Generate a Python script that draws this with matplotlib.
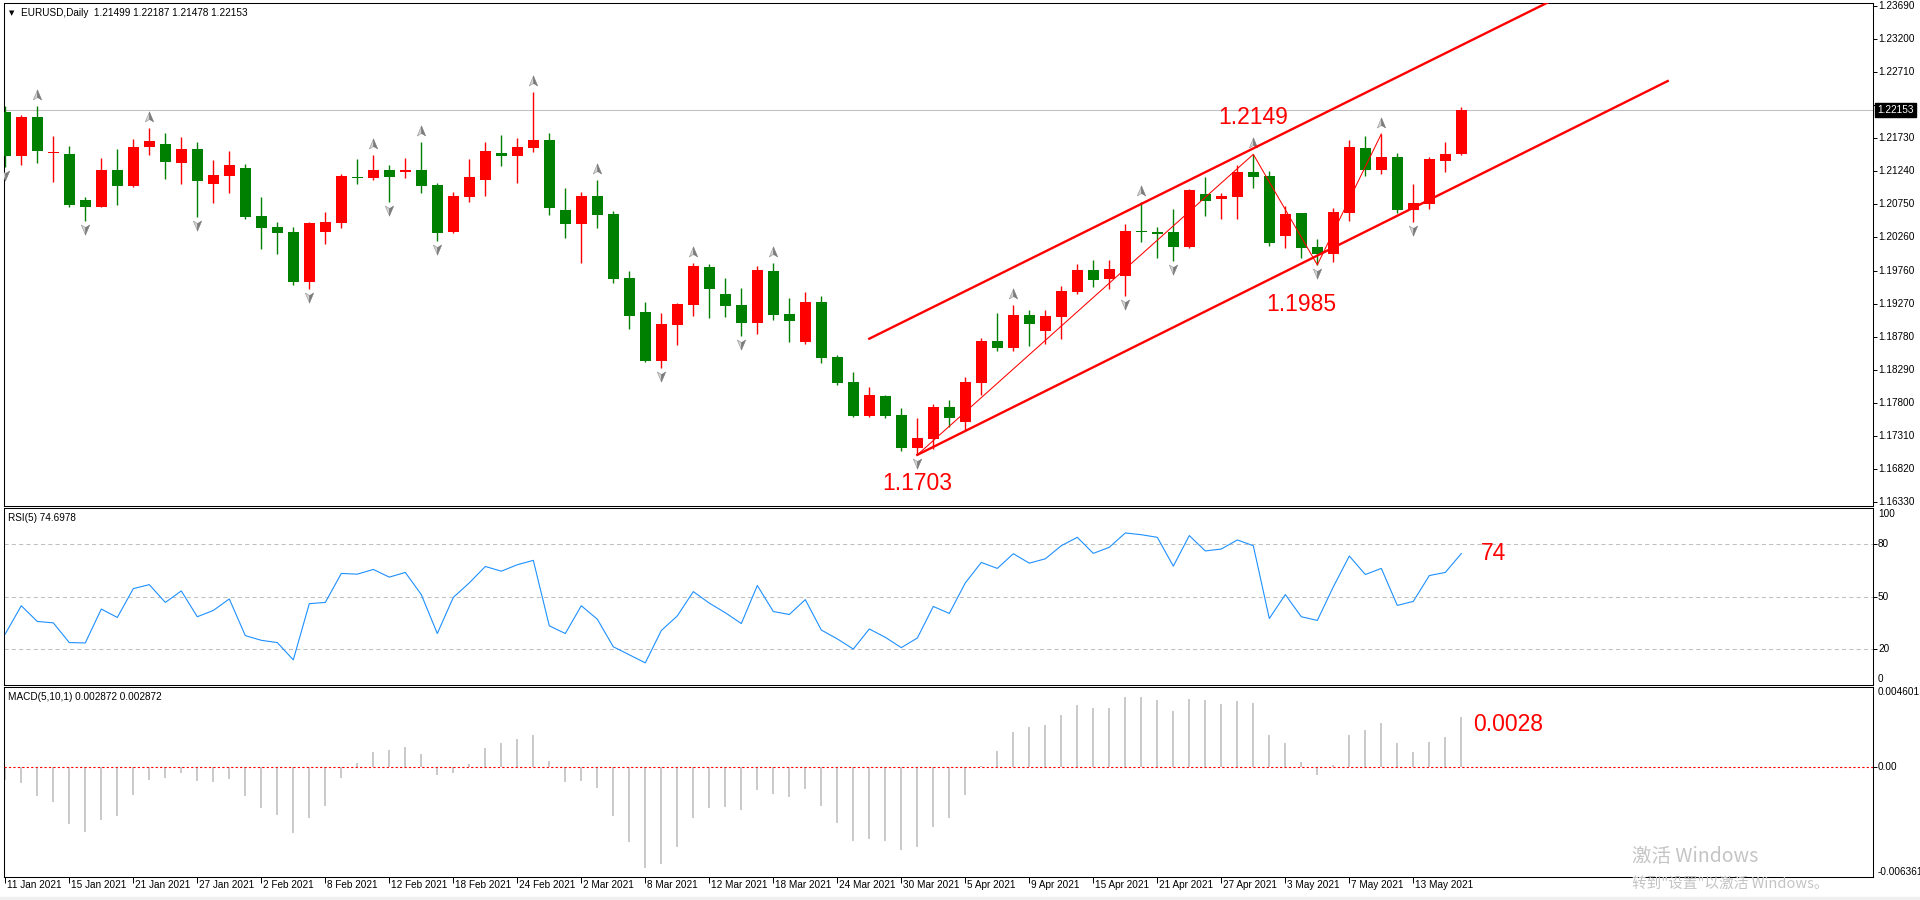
import matplotlib.pyplot as plt
import matplotlib.transforms as mtransforms
from matplotlib.path import Path
from matplotlib.patches import Rectangle
import numpy as np

plt.rcParams['font.family'] = ['Liberation Sans', 'DejaVu Sans']

W, H = 1920, 900

# EURUSD daily, 11 Jan 2021 .. 18 May 2021
opens = [1.22119, 1.21471, 1.22045, 1.21505, 1.21495, 1.20813, 1.20714, 1.21258, 1.21025, 1.21604,
         1.21644, 1.21367, 1.21570, 1.21055, 1.21174, 1.21288, 1.20575, 1.20412, 1.20338, 1.19601,
         1.20343, 1.20476, 1.21154, 1.21144, 1.21258, 1.21223, 1.21258, 1.21035, 1.20343, 1.20862,
         1.21114, 1.21510, 1.21471, 1.21589, 1.21703, 1.20664, 1.20461, 1.20872, 1.20605, 1.19655,
         1.19151, 1.18428, 1.18963, 1.19259, 1.19818, 1.19418, 1.19254, 1.18992, 1.19759, 1.19121,
         1.18705, 1.19299, 1.18483, 1.18112, 1.17612, 1.17904, 1.17622, 1.17137, 1.17271, 1.17741,
         1.17523, 1.18102, 1.18720, 1.18621, 1.19106, 1.18873, 1.19081, 1.19452, 1.19774, 1.19635,
         1.19690, 1.20353, 1.20333, 1.20338, 1.20120, 1.20902, 1.20823, 1.20862, 1.21228, 1.21169,
         1.20283, 1.20620, 1.20110, 1.20016, 1.20625, 1.21584, 1.21263, 1.21451, 1.20669, 1.20758,
         1.21396, 1.21499]
highs = [1.22208, 1.22074, 1.22208, 1.21763, 1.21614, 1.20857, 1.21436, 1.21570, 1.21718, 1.21881,
         1.21807, 1.21748, 1.21673, 1.21406, 1.21540, 1.21347, 1.20857, 1.20486, 1.20412, 1.20486,
         1.20635, 1.21199, 1.21421, 1.21481, 1.21332, 1.21436, 1.21673, 1.21065, 1.20931, 1.21421,
         1.21678, 1.21777, 1.21733, 1.22416, 1.21807, 1.20991, 1.20931, 1.21110, 1.20649, 1.19759,
         1.19299, 1.19136, 1.19284, 1.19883, 1.19863, 1.19655, 1.19507, 1.19833, 1.19878, 1.19358,
         1.19447, 1.19388, 1.18517, 1.18260, 1.18037, 1.17919, 1.17726, 1.17577, 1.17785, 1.17845,
         1.18186, 1.18765, 1.19136, 1.19254, 1.19180, 1.19180, 1.19536, 1.19863, 1.19922, 1.19922,
         1.20457, 1.20778, 1.20417, 1.20679, 1.20976, 1.21154, 1.20917, 1.21327, 1.21490, 1.21243,
         1.20729, 1.20620, 1.20239, 1.20694, 1.21703, 1.21763, 1.21792, 1.21510, 1.21050, 1.21451,
         1.21673, 1.22187]
lows = [1.21298, 1.21337, 1.21367, 1.21085, 1.20714, 1.20506, 1.20704, 1.20743, 1.21001, 1.21485,
        1.21129, 1.21055, 1.20565, 1.20773, 1.20922, 1.20536, 1.20090, 1.20016, 1.19556, 1.19497,
        1.20165, 1.20402, 1.21055, 1.21114, 1.20783, 1.21144, 1.20922, 1.20209, 1.20328, 1.20788,
        1.20877, 1.21322, 1.21070, 1.21530, 1.20595, 1.20254, 1.19883, 1.20402, 1.19586, 1.18903,
        1.18413, 1.18324, 1.18666, 1.19096, 1.19066, 1.19081, 1.18799, 1.18829, 1.19037, 1.18710,
        1.18681, 1.18399, 1.18072, 1.17597, 1.17597, 1.17582, 1.17093, 1.17030, 1.17122, 1.17449,
        1.17389, 1.17924, 1.18577, 1.18577, 1.18651, 1.18681, 1.18755, 1.19423, 1.19526, 1.19487,
        1.19393, 1.20194, 1.19957, 1.19912, 1.20105, 1.20580, 1.20536, 1.20536, 1.20996, 1.20135,
        1.20105, 1.19957, 1.19850, 1.19898, 1.20506, 1.21169, 1.21204, 1.20625, 1.20491, 1.20684,
        1.21233, 1.21478]
closes = [1.21471, 1.22045, 1.21545, 1.21530, 1.20743, 1.20714, 1.21258, 1.21025, 1.21599, 1.21688,
          1.21382, 1.21570, 1.21100, 1.21184, 1.21332, 1.20565, 1.20402, 1.20328, 1.19601, 1.20471,
          1.20486, 1.21169, 1.21139, 1.21258, 1.21159, 1.21258, 1.21025, 1.20328, 1.20872, 1.21154,
          1.21540, 1.21471, 1.21599, 1.21703, 1.20699, 1.20461, 1.20872, 1.20595, 1.19645, 1.19096,
          1.18428, 1.18972, 1.19269, 1.19833, 1.19497, 1.19245, 1.18992, 1.19774, 1.19111, 1.19022,
          1.19299, 1.18473, 1.18102, 1.17612, 1.17919, 1.17612, 1.17137, 1.17281, 1.17741, 1.17582,
          1.18112, 1.18720, 1.18621, 1.19106, 1.18977, 1.19091, 1.19462, 1.19774, 1.19630, 1.19784,
          1.20353, 1.20333, 1.20313, 1.20120, 1.20961, 1.20803, 1.20872, 1.21228, 1.21159, 1.20180,
          1.20605, 1.20105, 1.20016, 1.20635, 1.21599, 1.21263, 1.21451, 1.20669, 1.20768, 1.21421,
          1.21495, 1.22153]

rsi = [28.7, 44.8, 35.8, 35.0, 23.7, 23.5, 42.9, 38.1, 54.6, 56.9,
       46.7, 53.3, 38.5, 42.1, 48.7, 27.7, 25.0, 23.7, 13.8, 46.0,
       46.7, 63.3, 62.9, 65.6, 61.2, 63.9, 51.2, 28.9, 49.6, 57.9,
       67.3, 64.6, 68.3, 70.8, 33.3, 28.9, 44.8, 37.1, 21.3, 16.7,
       12.1, 30.6, 39.0, 52.9, 46.3, 40.8, 34.6, 56.4, 41.5, 39.8,
       48.3, 30.9, 25.8, 20.0, 31.5, 26.7, 20.8, 26.3, 44.4, 40.4,
       57.9, 69.6, 66.2, 74.6, 69.2, 71.7, 79.2, 84.0, 74.8, 78.3,
       86.5, 85.5, 84.0, 67.5, 85.0, 76.2, 77.3, 82.5, 79.2, 37.5,
       51.2, 38.5, 36.4, 55.6, 73.3, 62.7, 66.2, 45.0, 47.3, 62.1,
       63.9, 74.7]

macd = [-0.00074, -0.00095, -0.00169, -0.00204, -0.00329, -0.00377, -0.00305, -0.00282, -0.00165, -0.00078,
        -0.00066, -0.00037, -0.00082, -0.00089, -0.00072, -0.00171, -0.00237, -0.00276, -0.00385, -0.00294,
        -0.00224, -0.00066, 0.00019, 0.00084, 0.00095, 0.00113, 0.00072, -0.00049, -0.00035, 0.00017,
        0.00107, 0.00136, 0.00159, 0.00183, 0.00031, -0.00087, -0.00084, -0.00124, -0.00282, -0.00434,
        -0.00587, -0.00562, -0.00463, -0.00297, -0.00239, -0.00235, -0.00249, -0.00136, -0.00156, -0.00177,
        -0.00130, -0.00229, -0.00323, -0.00428, -0.00418, -0.00428, -0.00478, -0.00463, -0.00350, -0.00294,
        -0.00165, 0.00003, 0.00089, 0.00200, 0.00229, 0.00241, 0.00299, 0.00358, 0.00340, 0.00340,
        0.00404, 0.00404, 0.00387, 0.00323, 0.00391, 0.00385, 0.00364, 0.00381, 0.00369, 0.00181,
        0.00136, 0.00025, -0.00049, 0.00008, 0.00183, 0.00212, 0.00255, 0.00136, 0.00086, 0.00142,
        0.00171, 0.002872]

date_labels = ["11 Jan 2021", "15 Jan 2021", "21 Jan 2021", "27 Jan 2021", "2 Feb 2021", "8 Feb 2021",
               "12 Feb 2021", "18 Feb 2021", "24 Feb 2021", "2 Mar 2021", "8 Mar 2021", "12 Mar 2021",
               "18 Mar 2021", "24 Mar 2021", "30 Mar 2021", "5 Apr 2021", "9 Apr 2021", "15 Apr 2021",
               "21 Apr 2021", "27 Apr 2021", "3 May 2021", "7 May 2021", "13 May 2021"]
# 1.22220 sits under the current-price tag, so it gets a tick but no label
price_ticks = [1.23690, 1.23200, 1.22710, 1.22220, 1.21730, 1.21240, 1.20750, 1.20260,
               1.19760, 1.19270, 1.18780, 1.18290, 1.17800, 1.17310, 1.16820, 1.16330]
hidden_tick = 1.22220
fractal_up = [2, 9, 23, 26, 33, 37, 43, 48, 63, 71, 78, 86]
fractal_down = [0, 5, 12, 19, 24, 27, 41, 46, 57, 70, 73, 82, 88]
zigzag = [(57, 'low'), (78, 'high'), (82, 'low'), (86, 'high')]
channel_upper = ([54.0, 103.9], [1.18754, 1.24626])
channel_lower = ([57.0, 103.9], [1.17030, 1.22578])

RED = '#ff0000'
GREEN = '#008000'
GRID = '#c0c0c0'
FS = 7.2

fig = plt.figure(figsize=(W / 100, H / 100), dpi=100, facecolor='white')


def panel(y0, y1):
    ax = fig.add_axes([4 / W, 1 - y1 / H, (1873 - 4) / W, (y1 - y0) / H])
    for s in ax.spines.values():
        s.set_linewidth(0.75)
        s.set_color('black')
    ax.set_xlim(-0.081, 116.73)
    ax.tick_params(axis='x', bottom=False, labelbottom=False)
    ax.tick_params(axis='y', left=False, labelleft=False, right=True, labelright=False,
                   direction='out', length=3, width=0.7)
    return ax


def right_label(ax, y, txt, va='center', **kw):
    tr = mtransforms.offset_copy(ax.get_yaxis_transform(), fig=fig, x=5, y=0, units='dots')
    ax.text(1.0, y, txt, transform=tr, ha='left', va=va, fontsize=FS, clip_on=False, **kw)


x = np.arange(len(closes))
o, h, l, c = map(np.array, (opens, highs, lows, closes))

# ---------------- price panel ----------------
ax = panel(3, 506)
ax.set_ylim(1.16271, 1.23736)
ax.axhline(closes[-1], color=GRID, lw=0.75, zorder=1)

col = np.where(c >= o, RED, GREEN)
ax.vlines(x, l, h, colors=col, lw=1.0, zorder=2)
ax.bar(x, np.maximum(np.abs(c - o), 0.00012), bottom=np.minimum(o, c), width=0.69,
       color=col, lw=0, zorder=3)

# fractal arrows (two-tone arrowheads)
left_half = Path([(0, 1), (0, -0.35), (-0.75, -0.8), (0, 1)], closed=True)
right_half = Path([(0, 1), (0.75, -0.8), (0, -0.35), (0, 1)], closed=True)
flip = lambda p: Path(p.vertices * [1, -1], p.codes)
tr_up = mtransforms.offset_copy(ax.transData, fig=fig, y=11, units='dots')
tr_dn = mtransforms.offset_copy(ax.transData, fig=fig, y=-8, units='dots')
fu = np.array(fractal_up)
fd = np.array(fractal_down)
ax.plot(fu, h[fu], ls='', marker=left_half, ms=8, mfc='#d4d4d4', mec='#909090', mew=0.4, transform=tr_up, zorder=4)
ax.plot(fu, h[fu], ls='', marker=right_half, ms=8, mfc='#7a7a7a', mec='#7a7a7a', mew=0.4, transform=tr_up, zorder=4)
ax.plot(fd, l[fd], ls='', marker=flip(left_half), ms=8, mfc='#d4d4d4', mec='#909090', mew=0.4, transform=tr_dn, zorder=4)
ax.plot(fd, l[fd], ls='', marker=flip(right_half), ms=8, mfc='#7a7a7a', mec='#7a7a7a', mew=0.4, transform=tr_dn, zorder=4)

# zigzag and channel
zz_x = [i for i, k in zigzag]
zz_y = [highs[i] if k == 'high' else lows[i] for i, k in zigzag]
ax.plot(zz_x, zz_y, color=RED, lw=0.75, zorder=5)
ax.plot(*channel_upper, color=RED, lw=1.7, zorder=5)
ax.plot(*channel_lower, color=RED, lw=1.7, zorder=5)

big = dict(color=RED, fontsize=16.5, ha='center', va='center', textcoords='offset pixels', zorder=6)
ax.annotate('1.1703', xy=(57, lows[57]), xytext=(0, -29), **big)
ax.annotate('1.2149', xy=(78, highs[78]), xytext=(0, 37), **big)
ax.annotate('1.1985', xy=(82, lows[82]), xytext=(-16, -40), **big)

ax.set_yticks(price_ticks)
for p in price_ticks:
    if p != hidden_tick:
        right_label(ax, p, f'{p:.5f}')
ax.annotate(f'{closes[-1]:.5f}', xy=(1.0, closes[-1]), xycoords=('axes fraction', 'data'),
            xytext=(4, 0), textcoords='offset pixels', ha='left', va='center', fontsize=FS,
            color='white', annotation_clip=False, zorder=10,
            bbox=dict(boxstyle='square,pad=0.2', fc='black', ec='black'))

# ---------------- RSI panel ----------------
ax_r = panel(508, 685)
ax_r.set_ylim(-0.6, 100.8)
for g in (80, 50, 20):
    ax_r.axhline(g, color=GRID, lw=0.75, ls=(0, (4, 3)), zorder=1)
ax_r.plot(x, rsi, color='#1e90ff', lw=0.8, zorder=3)
ax_r.set_yticks([80, 50, 20])
right_label(ax_r, 100, '100', va='top')
for g in (80, 50, 20):
    right_label(ax_r, g, str(g))
right_label(ax_r, 0, '0', va='bottom')
ax_r.annotate('74', xy=(x[-1], rsi[-1]), xytext=(20, 0), textcoords='offset pixels',
              color=RED, fontsize=16.5, ha='left', va='center')

# ---------------- MACD panel ----------------
ax_m = panel(687, 877)
ax_m.set_ylim(-0.006361, 0.004601)
ax_m.vlines(x, 0, macd, colors=GRID, lw=1.2, zorder=2)
ax_m.axhline(0, color=RED, lw=0.8, ls=(0, (2, 2)), zorder=3)
ax_m.set_yticks([0])
right_label(ax_m, 0.004601, '0.004601', va='top')
right_label(ax_m, 0, '0.00')
right_label(ax_m, -0.006361, '-0.006361', va='bottom')
ax_m.annotate('0.0028', xy=(x[-1], macd[-1]), xytext=(12, -8), textcoords='offset pixels',
              color=RED, fontsize=16.5, ha='left', va='center')

ticks = np.arange(len(date_labels)) * 4
ax_m.set_xticks(ticks)
ax_m.tick_params(axis='x', bottom=True, direction='out', length=4, width=0.7)
for t, lbl in zip(ticks, date_labels):
    ax_m.annotate(lbl, xy=(t, 0), xycoords=('data', 'axes fraction'), xytext=(2, -8),
                  textcoords='offset pixels', ha='left', va='center', fontsize=FS,
                  annotation_clip=False)

# ---------------- header texts ----------------
def fig_text(px, py, s, **kw):
    fig.text(px / W, 1 - py / H, s, **kw)

fig_text(9, 13, '\u25bc', fontsize=5, va='center', ha='left', family=['DejaVu Sans'])
fig_text(21, 13, 'EURUSD,Daily  1.21499 1.22187 1.21478 1.22153', fontsize=FS, va='center')
fig_text(8, 518, 'RSI(5) 74.6978', fontsize=FS, va='center')
fig_text(8, 697, 'MACD(5,10,1) 0.002872 0.002872', fontsize=FS, va='center')

# Windows activation watermark present on the screenshot
fig_text(1632, 857, '激活 Windows', fontsize=14, va='center', color='#c4c4c4',
         family=['Noto Sans CJK SC', 'DejaVu Sans'])
fig_text(1632, 884, '转到"设置"以激活 Windows。', fontsize=10.5, va='center', color='#c4c4c4',
         family=['Noto Sans CJK SC', 'DejaVu Sans'])

fig.patches.append(Rectangle((0, 0), 1, 3 / H, transform=fig.transFigure, color='#f0f0f0', zorder=0))

fig.savefig('out.png', dpi=100)
